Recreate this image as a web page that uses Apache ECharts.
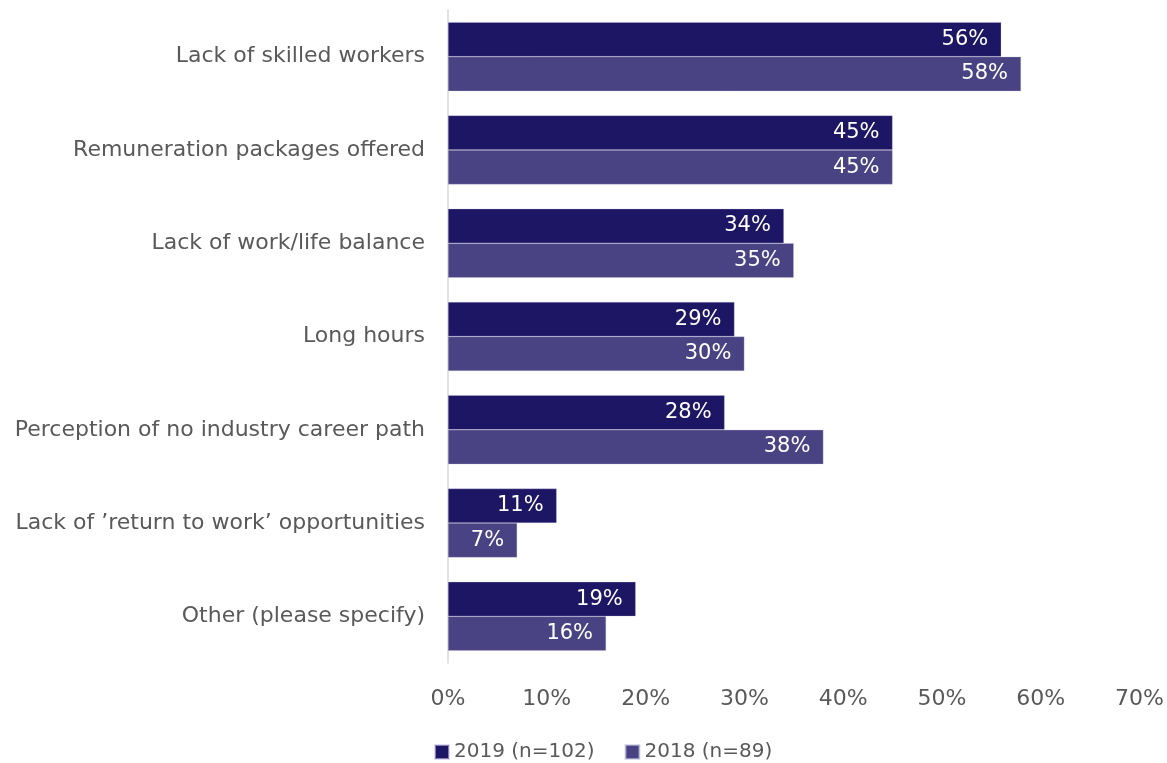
<!DOCTYPE html>
<html>
<head>
<meta charset="utf-8">
<style>
  html, body { margin: 0; padding: 0; background: #ffffff; }
  #chart { width: 1167px; height: 763px; }
</style>
<script src="https://cdn.jsdelivr.net/npm/echarts@6/dist/echarts.min.js"></script>
</head>
<body>
<div id="chart"></div>
<script>
// Reasons cited, top to bottom
var categories = [
  'Lack of skilled workers',
  'Remuneration packages offered',
  'Lack of work/life balance',
  'Long hours',
  'Perception of no industry career path',
  "Lack of \u2019return to work\u2019 opportunities",
  'Other (please specify)'
];
var values2019 = [56, 45, 34, 29, 28, 11, 19];
var values2018 = [58, 45, 35, 30, 38, 7, 16];
var seriesNames = ['2019 (n=102)', '2018 (n=89)'];
var xTicks = [0, 10, 20, 30, 40, 50, 60, 70];

var FONT = '"DejaVu Sans", "Open Sans", sans-serif';
var TEXT = '#595959';
var colors = ['#1d1664', '#4a4383'];

var chart = echarts.init(document.getElementById('chart'), null, { renderer: 'canvas' });

function barSeries(name, data, color) {
  return {
    name: name,
    type: 'bar',
    data: data,
    barGap: '0%',
    barCategoryGap: '26%',
    itemStyle: { color: color, borderColor: 'rgba(200,196,226,0.6)', borderWidth: 0.5 },
    label: {
      show: true,
      position: 'insideRight',
      distance: 13,
      color: '#ffffff',
      fontFamily: FONT,
      fontSize: 21,
      formatter: '{c}%'
    },
    emphasis: { disabled: true }
  };
}

chart.setOption({
  animation: false,
  color: colors,
  grid: { left: 448, right: 27, top: 10, bottom: 100, containLabel: false },
  xAxis: {
    type: 'value',
    min: xTicks[0],
    max: xTicks[xTicks.length - 1],
    interval: 10,
    axisLine: { show: false },
    axisTick: { show: false },
    splitLine: { show: false },
    axisLabel: {
      color: TEXT,
      fontFamily: FONT,
      fontSize: 22,
      margin: 25,
      formatter: '{value}%'
    }
  },
  yAxis: {
    type: 'category',
    data: categories,
    inverse: true,
    axisLine: { show: true, lineStyle: { color: '#d9d9d9', width: 1.5 } },
    axisTick: { show: false },
    axisLabel: {
      color: TEXT,
      fontFamily: FONT,
      fontSize: 22,
      margin: 23
    }
  },
  legend: {
    top: 737,
    left: 429,
    itemWidth: 14,
    itemHeight: 14,
    itemGap: 30,
    icon: 'rect',
    textStyle: { color: TEXT, fontFamily: FONT, fontSize: 20 },
    data: seriesNames
  },
  series: [
    barSeries(seriesNames[0], values2019, colors[0]),
    barSeries(seriesNames[1], values2018, colors[1])
  ]
});
</script>
</body>
</html>
